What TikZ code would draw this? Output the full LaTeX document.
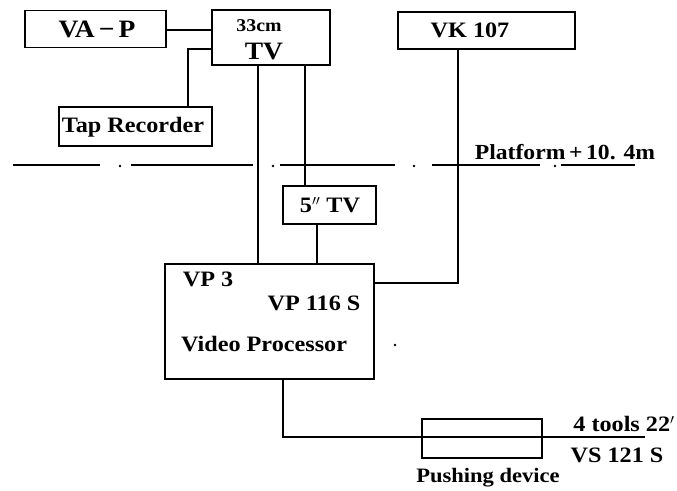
\documentclass[tikz,border=0pt]{standalone}
\usepackage{fontspec}
\setmainfont{Liberation Serif}[FakeStretch=1.1]
\begin{document}
\begin{tikzpicture}[x=1pt,y=-1pt,
  box/.style={draw,line width=1.1pt,inner sep=0pt,minimum width=#1},
  lbl/.style={inner sep=0pt,font=\fontsize{22}{24}\selectfont\bfseries},
  conn/.style={line width=1.1pt},
  plat/.style={line width=1.2pt}]
\useasboundingbox (0,0) rectangle (677,490);
% boxes
\node[box=141pt,minimum height=37pt] (vap) at (95.5,29) {};
\node[lbl,font=\fontsize{25}{27}\selectfont\bfseries] (vapt) at (97,29) {VA\,−\,P};
\node[box=118pt,minimum height=55pt] (tv) at (271,37.5) {};
\node[lbl,font=\fontsize{18}{20}\selectfont\bfseries] (tva) at (259,26) {33cm};
\node[lbl,font=\fontsize{25}{27}\selectfont\bfseries] (tvb) at (264,52) {TV};
\node[box=153pt,minimum height=39pt] (tap) at (135.5,126.5) {};
\node[lbl] (tapt) at (133,127) {Tap Recorder};
\node[box=177pt,minimum height=37pt] (vk) at (486.5,30.5) {};
\node[lbl] (vkt) at (470,30) {VK 107};
\node[box=93pt,minimum height=38pt] (stv) at (329.5,205) {};
\node[lbl] (stvt) at (330,205) {5$''$ TV};
\node[box=209pt,minimum height=115pt] (vp) at (269.5,321.5) {};
\node[lbl] (vp3) at (208,279) {VP 3};
\node[lbl] (vp116) at (314,303) {VP 116 S};
\node[lbl] (vpv) at (264,344) {Video Processor};
\node[box=120pt,minimum height=39pt] (push) at (482,438.5) {};
\node[lbl,font=\fontsize{20.5}{22}\selectfont\bfseries] (pusht) at (488,478) {Pushing device};
\node[lbl,font=\fontsize{22}{24}\selectfont\bfseries] (tools) at (624,424) {4 tools 22$'$};
\node[lbl] (vs) at (617,455) {VS 121 S};
\node[lbl,font=\fontsize{21.5}{24}\selectfont\bfseries] (platt) at (565,152) {Platform\,+\,10. 4m};
% coordinates
\coordinate (tapc) at (188,49);
\coordinate (vkc) at (458,283);
\coordinate (vpc) at (283,437);
\coordinate (endc) at (645,437);
% connectors
\draw[conn] (vap.east |- 0,30) -- (tv.west |- 0,30);
\draw[conn] (tv.west |- tapc) -- (tapc) -- (tap.north -| tapc);
\draw[conn] (tv.south -| 258,0) -- (vp.north -| 258,0);
\draw[conn] (tv.south -| 305,0) -- (stv.north -| 305,0);
\draw[conn] (stv.south -| 317,0) -- (vp.north -| 317,0);
\draw[conn] (vk.south -| vkc) -- (vkc) -- (vp.east |- vkc);
\draw[conn] (vp.south -| vpc) -- (vpc) -- (endc);
% platform line
\draw[plat] (13,165) -- (100,165);
\draw[plat] (131,165) -- (253,165);
\draw[plat] (280,165) -- (395,165);
\draw[plat] (432,165) -- (540,165);
\draw[plat] (561,165) -- (635,165);
\foreach \d in {120,273,414,555} \fill (\d,166) circle (1.3pt);
\fill (395,345) circle (1.3pt);
\end{tikzpicture}
\end{document}
